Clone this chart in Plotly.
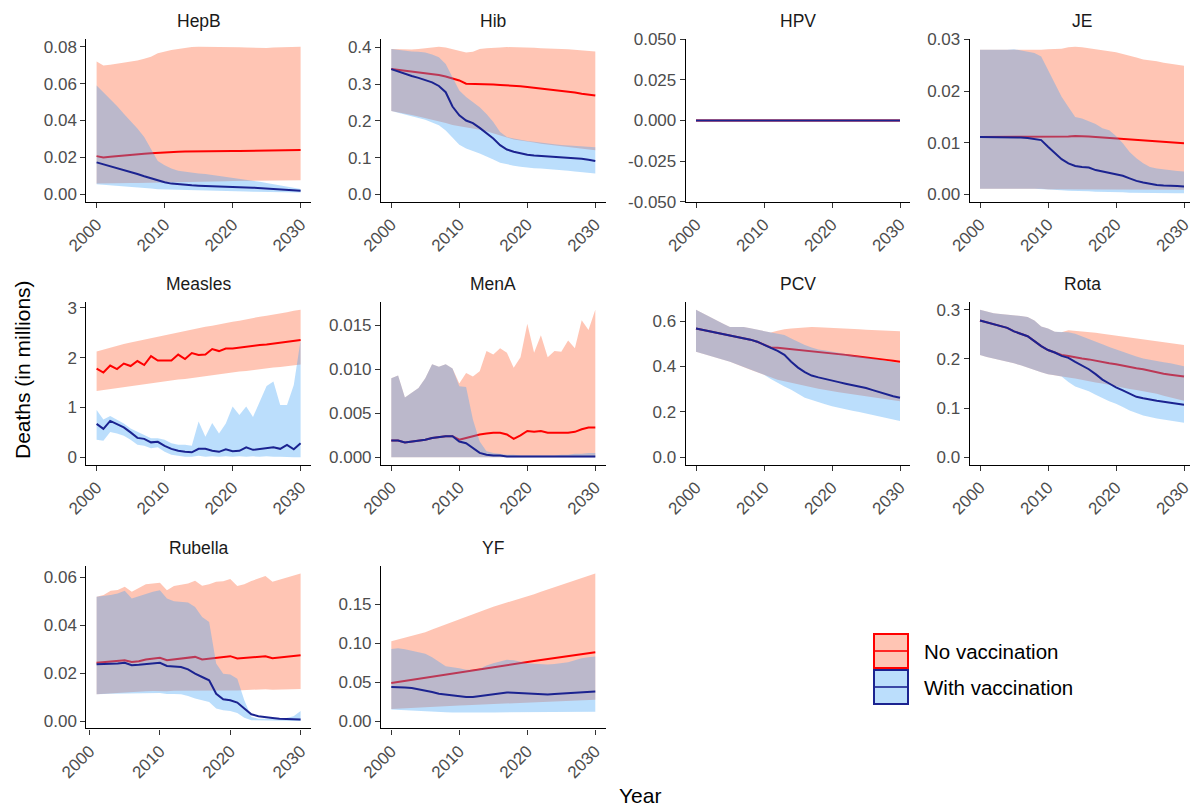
import plotly.graph_objects as go

# ---------------- data ----------------
years = list(range(2000, 2031))
rubella_years = list(range(2001, 2031))
diseases = ["HepB", "Hib", "HPV", "JE", "Measles", "MenA", "PCV", "Rota", "Rubella", "YF"]

hepb_nov_mid = [.0207, .0200, .0203, .0207, .0211, .0215, .0218, .0220, .0222, .0225, .0228, .0230, .0231, .0232, .0233, .0234,
                .0234, .0235, .0235, .0235, .0235, .0235, .0236, .0236, .0236, .0237, .0237, .0238, .0238, .0239, .0240]
hepb_nov_hi = [.0720, .0698, .0702, .0707, .0712, .0718, .0725, .0735, .0745, .0765, .0775, .0782, .0788, .0795, .0798, .0800,
               .0800, .0800, .0799, .0798, .0798, .0797, .0795, .0794, .0793, .0793, .0795, .0796, .0797, .0798, .0800]
hepb_nov_lo = [.0058, .0059, .0060, .0060, .0061, .0062, .0062, .0063, .0064, .0064, .0065, .0066, .0066, .0067, .0068, .0068,
               .0069, .0070, .0070, .0071, .0072, .0072, .0073, .0073, .0074, .0074, .0075, .0075, .0075, .0076, .0076]
hepb_vac_mid = [.0173, .0163, .0153, .0143, .0132, .0121, .0110, .0098, .0087, .0075, .0065, .0058, .0054, .0051, .0049, .0047,
                .0045, .0044, .0042, .0041, .0040, .0039, .0037, .0036, .0034, .0032, .0030, .0027, .0025, .0022, .0019]
hepb_vac_hi = [.0590, .0554, .0518, .0478, .0437, .0397, .0356, .0311, .0248, .0180, .0158, .0140, .0128, .0122, .0117, .0113,
               .0110, .0105, .0099, .0095, .0090, .0086, .0081, .0075, .0068, .0061, .0054, .0048, .0041, .0035, .0029]
hepb_vac_lo = [.0055, .0052, .0049, .0046, .0043, .0040, .0037, .0034, .0031, .0028, .0025, .0024, .0023, .0022, .0021, .0020,
               .0019, .0018, .0018, .0017, .0016, .0016, .0015, .0014, .0013, .0013, .0012, .0012, .0011, .0010, .0010]

hib_nov_mid = [.341, .339, .336, .334, .332, .330, .328, .325, .321, .316, .310, .301, .301, .301, .300, .299,
               .298, .297, .295, .294, .292, .290, .288, .286, .283, .281, .279, .277, .274, .271, .269]
hib_nov_hi = [.396, .395, .394, .394, .396, .398, .401, .402, .400, .396, .391, .386, .388, .396, .398, .398,
              .400, .401, .401, .400, .399, .399, .398, .398, .397, .396, .395, .394, .392, .390, .389]
hib_nov_lo = [.227, .223, .219, .216, .212, .209, .204, .199, .194, .189, .185, .182, .179, .176, .172, .167,
              .161, .155, .149, .146, .143, .141, .138, .136, .133, .131, .129, .127, .124, .122, .120]
hib_vac_mid = [.341, .334, .328, .322, .317, .311, .305, .295, .278, .239, .215, .201, .194, .181, .167, .152,
               .134, .122, .116, .111, .108, .106, .105, .104, .102, .101, .100, .098, .097, .094, .091]
hib_vac_hi = [.396, .393, .390, .389, .388, .386, .381, .373, .355, .319, .283, .265, .251, .237, .219, .197,
              .170, .156, .152, .148, .145, .143, .140, .138, .136, .134, .133, .132, .130, .129, .128]
hib_vac_lo = [.227, .222, .217, .212, .208, .203, .196, .188, .174, .156, .135, .125, .118, .111, .104, .095,
              .086, .081, .078, .075, .072, .071, .070, .068, .067, .066, .064, .062, .060, .058, .057]

hpv_nov_mid = [0.0] * 31
hpv_nov_hi = [0.0] * 31
hpv_nov_lo = [0.0] * 31
hpv_vac_mid = [0.0] * 31
hpv_vac_hi = [0.0] * 31
hpv_vac_lo = [0.0] * 31

je_nov_mid = [.0111, .0111, .0111, .0111, .0111, .0111, .0111, .0111, .0111, .0111, .0111, .0112, .0112, .0112, .0113, .0113,
              .0112, .0111, .0110, .0109, .0108, .0107, .0106, .0105, .0104, .0103, .0102, .0101, .0100, .0100, .0099]
je_nov_hi = [.0280, .0280, .0280, .0279, .0280, .0280, .0280, .0280, .0280, .0280, .0281, .0281, .0282, .0285, .0286, .0285,
             .0283, .0282, .0279, .0278, .0275, .0272, .0269, .0265, .0261, .0260, .0258, .0255, .0253, .0252, .0249]
je_nov_lo = [.0011, .0011, .0011, .0011, .0011, .0011, .0011, .0011, .0011, .0011, .0010, .0010, .0010, .0010, .0010, .0010,
             .0010, .0010, .0010, .0010, .0010, .0009, .0009, .0009, .0009, .0009, .0009, .0009, .0009, .0009, .0009]
je_vac_mid = [.0111, .0111, .0111, .0111, .0111, .0111, .0110, .0109, .0107, .0105, .0092, .0079, .0068, .0060, .0055, .0053,
              .0052, .0047, .0044, .0042, .0039, .0036, .0031, .0026, .0023, .0020, .0018, .0017, .0017, .0016, .0015]
je_vac_hi = [.0280, .0280, .0279, .0279, .0280, .0281, .0279, .0277, .0274, .0267, .0240, .0214, .0189, .0169, .0150, .0147,
             .0142, .0136, .0128, .0124, .0113, .0099, .0082, .0070, .0060, .0053, .0050, .0048, .0046, .0045, .0044]
je_vac_lo = [.0011, .0011, .0011, .0011, .0011, .0011, .0011, .0011, .0011, .0011, .0010, .0009, .0008, .0007, .0007, .0006,
             .0006, .0005, .0005, .0004, .0004, .0004, .0003, .0003, .0003, .0002, .0002, .0002, .0002, .0002, .0002]

measles_nov_mid = [1.78, 1.70, 1.84, 1.77, 1.88, 1.83, 1.93, 1.85, 2.03, 1.94, 1.94, 1.94, 2.06, 1.97, 2.09, 2.05,
                   2.06, 2.17, 2.13, 2.18, 2.18, 2.20, 2.22, 2.23, 2.25, 2.26, 2.28, 2.30, 2.32, 2.33, 2.35]
measles_nov_hi = [2.12, 2.16, 2.20, 2.23, 2.27, 2.30, 2.33, 2.36, 2.39, 2.42, 2.45, 2.48, 2.51, 2.54, 2.56, 2.59,
                  2.62, 2.64, 2.67, 2.70, 2.72, 2.74, 2.77, 2.79, 2.82, 2.84, 2.86, 2.89, 2.91, 2.94, 2.96]
measles_nov_lo = [1.33, 1.35, 1.37, 1.39, 1.41, 1.43, 1.45, 1.46, 1.48, 1.50, 1.52, 1.54, 1.56, 1.57, 1.59, 1.61,
                  1.63, 1.65, 1.66, 1.68, 1.70, 1.72, 1.73, 1.75, 1.76, 1.78, 1.80, 1.81, 1.83, 1.84, 1.86]
measles_vac_mid = [0.67, 0.57, 0.73, 0.67, 0.60, 0.50, 0.39, 0.37, 0.30, 0.31, 0.23, 0.17, 0.13, 0.11, 0.10, 0.17,
                   0.17, 0.13, 0.11, 0.16, 0.12, 0.13, 0.20, 0.15, 0.17, 0.18, 0.20, 0.17, 0.25, 0.16, 0.28]
measles_vac_hi = [0.95, 0.76, 0.83, 0.76, 0.68, 0.58, 0.51, 0.45, 0.38, 0.38, 0.35, 0.28, 0.25, 0.25, 0.23, 0.72,
                  0.41, 0.69, 0.48, 0.68, 1.02, 0.85, 1.02, 0.81, 1.12, 1.43, 1.52, 1.05, 1.05, 1.45, 2.35]
measles_vac_lo = [0.35, 0.33, 0.51, 0.48, 0.43, 0.35, 0.25, 0.23, 0.18, 0.20, 0.11, 0.05, 0.03, 0.01, 0.01, 0.03,
                  0.01, 0.02, 0.01, 0.02, 0.01, 0.02, 0.01, 0.02, 0.01, 0.02, 0.01, 0.01, 0.01, 0.00, 0.00]

mena_nov_mid = [.0019, .0019, .0017, .0018, .0019, .0020, .0022, .0023, .0024, .0024, .0020, .0022, .0024, .0026, .0027, .0028,
                .0028, .0026, .0021, .0025, .0030, .0029, .0030, .0028, .0028, .0028, .0028, .0029, .0032, .0034, .0034]
mena_nov_hi = [.0090, .0093, .0068, .0073, .0079, .0090, .0106, .0103, .0106, .0101, .0084, .0096, .0092, .0098, .0121, .0117,
               .0124, .0119, .0102, .0114, .0152, .0119, .0139, .0114, .0121, .0120, .0133, .0124, .0156, .0145, .0168]
mena_nov_lo = [0.0] * 31
mena_vac_mid = [.0019, .0019, .0017, .0018, .0019, .0020, .0022, .0023, .0024, .0024, .0018, .0016, .0010, .0005, .0003, .0002,
                .0002, .0001, .0001, .0001, .0001, .0001, .0001, .0001, .0001, .0001, .0001, .0001, .0001, .0001, .0001]
mena_vac_hi = [.0090, .0093, .0068, .0073, .0079, .0090, .0106, .0103, .0106, .0101, .0081, .0080, .0043, .0018, .0007, .0005,
               .0004, .0003, .0003, .0002, .0002, .0002, .0002, .0002, .0002, .0003, .0003, .0004, .0004, .0005, .0005]
mena_vac_lo = [0.0] * 31

pcv_nov_mid = [.567, .561, .554, .548, .543, .538, .532, .526, .518, .509, .497, .484, .482, .479, .477, .475,
               .472, .468, .465, .461, .458, .454, .451, .447, .444, .440, .436, .432, .429, .425, .421]
pcv_nov_hi = [.650, .634, .617, .603, .588, .574, .574, .574, .568, .562, .555, .550, .557, .564, .567, .570,
              .572, .574, .573, .572, .570, .568, .567, .566, .564, .562, .561, .560, .558, .557, .555]
pcv_nov_lo = [.465, .456, .447, .439, .430, .421, .409, .398, .386, .375, .363, .352, .342, .335, .327, .320,
              .314, .308, .302, .297, .291, .287, .282, .278, .273, .269, .265, .260, .256, .251, .247]
pcv_vac_mid = [.567, .561, .554, .548, .543, .538, .532, .526, .518, .509, .497, .482, .469, .451, .421, .395,
               .375, .360, .352, .344, .339, .331, .324, .318, .312, .305, .296, .286, .276, .269, .262]
pcv_vac_hi = [.650, .634, .617, .603, .588, .574, .574, .574, .568, .562, .555, .548, .542, .538, .523, .509,
              .494, .484, .475, .470, .465, .459, .453, .448, .444, .439, .435, .430, .426, .420, .414]
pcv_vac_lo = [.465, .456, .447, .439, .430, .421, .409, .398, .386, .375, .363, .345, .327, .312, .298, .280,
              .262, .252, .243, .234, .225, .218, .211, .205, .199, .193, .186, .180, .173, .167, .160]

rota_nov_mid = [.278, .274, .270, .266, .263, .256, .251, .246, .236, .226, .218, .213, .208, .206, .203, .201,
                .199, .196, .194, .191, .189, .186, .184, .181, .179, .176, .172, .170, .168, .166, .164]
rota_nov_hi = [.300, .296, .293, .291, .290, .288, .287, .285, .278, .266, .262, .255, .254, .258, .257, .256,
               .254, .253, .251, .249, .247, .245, .243, .241, .240, .238, .236, .234, .232, .230, .228]
rota_nov_lo = [.208, .204, .201, .198, .194, .191, .187, .182, .178, .173, .169, .167, .164, .162, .160, .158,
               .155, .152, .150, .147, .144, .142, .139, .137, .134, .132, .129, .125, .122, .118, .115]
rota_vac_mid = [.278, .274, .270, .266, .263, .256, .251, .246, .236, .226, .218, .213, .206, .202, .194, .186,
                .179, .169, .158, .150, .142, .136, .129, .123, .120, .117, .115, .113, .111, .109, .107]
rota_vac_hi = [.300, .296, .293, .291, .290, .288, .287, .285, .278, .266, .262, .255, .254, .254, .251, .246,
               .241, .236, .230, .224, .219, .214, .209, .205, .201, .198, .196, .193, .191, .188, .185]
rota_vac_lo = [.208, .204, .201, .198, .194, .191, .187, .182, .178, .173, .169, .167, .164, .153, .144, .139,
               .134, .127, .120, .114, .109, .102, .095, .090, .085, .082, .079, .076, .074, .072, .070]

rubella_nov_mid = [.0243, .0245, .0247, .0250, .0254, .0247, .0250, .0257, .0260, .0264, .0254, .0257, .0261, .0264, .0268,
                   .0257, .0260, .0265, .0268, .0271, .0261, .0263, .0265, .0268, .0271, .0262, .0265, .0268, .0271, .0275]
rubella_nov_hi = [.0519, .0527, .0544, .0548, .0561, .0540, .0556, .0572, .0575, .0578, .0547, .0564, .0570, .0575, .0586,
                  .0565, .0572, .0582, .0584, .0593, .0564, .0572, .0585, .0596, .0606, .0582, .0590, .0598, .0607, .0617]
rubella_nov_lo = [.0112, .0114, .0116, .0118, .0121, .0120, .0122, .0124, .0125, .0126, .0124, .0126, .0127, .0127, .0128,
                  .0127, .0128, .0128, .0128, .0128, .0128, .0129, .0130, .0131, .0133, .0131, .0132, .0133, .0133, .0134]
rubella_vac_mid = [.0237, .0237, .0238, .0240, .0243, .0233, .0235, .0238, .0241, .0243, .0230, .0228, .0226, .0216, .0198,
                   .0184, .0170, .0114, .0091, .0087, .0077, .0052, .0028, .0020, .0015, .0013, .0010, .0008, .0007, .0006]
rubella_vac_hi = [.0519, .0522, .0527, .0533, .0544, .0512, .0522, .0533, .0540, .0547, .0512, .0501, .0498, .0495, .0477,
                  .0435, .0414, .0240, .0198, .0194, .0177, .0087, .0017, .0010, .0010, .0010, .0010, .0013, .0020, .0042]
rubella_vac_lo = [.0112, .0113, .0114, .0115, .0117, .0115, .0116, .0117, .0117, .0117, .0113, .0113, .0112, .0105, .0094,
                  .0087, .0080, .0052, .0045, .0042, .0033, .0014, .0003, .0001, .0000, .0000, .0000, .0000, .0000, .0000]

yf_nov_mid = [.0486, .0500, .0513, .0527, .0540, .0554, .0568, .0581, .0595, .0608, .0622, .0636, .0649, .0663, .0677, .0690,
              .0704, .0718, .0731, .0745, .0759, .0771, .0783, .0796, .0808, .0820, .0833, .0845, .0857, .0870, .0882]
yf_nov_hi = [.1023, .1045, .1068, .1091, .1115, .1138, .1172, .1206, .1240, .1274, .1308, .1340, .1371, .1403, .1434, .1466,
             .1492, .1517, .1543, .1568, .1594, .1625, .1656, .1686, .1717, .1748, .1777, .1806, .1835, .1864, .1893]
yf_nov_lo = [.0153, .0158, .0163, .0168, .0173, .0178, .0182, .0186, .0191, .0195, .0200, .0203, .0206, .0209, .0212, .0215,
             .0218, .0221, .0224, .0227, .0230, .0234, .0238, .0243, .0247, .0252, .0256, .0260, .0265, .0269, .0273]
yf_vac_mid = [.0435, .0435, .0429, .0422, .0407, .0392, .0371, .0350, .0339, .0328, .0317, .0307, .0307, .0320, .0335, .0350,
              .0359, .0367, .0363, .0358, .0352, .0345, .0343, .0341, .0345, .0350, .0356, .0362, .0368, .0373, .0379]
yf_vac_hi = [.0925, .0933, .0920, .0904, .0883, .0861, .0818, .0760, .0703, .0690, .0678, .0656, .0656, .0669, .0712, .0740,
             .0767, .0784, .0780, .0760, .0742, .0733, .0725, .0726, .0730, .0740, .0754, .0780, .0806, .0817, .0827]
yf_vac_lo = [.0149, .0144, .0139, .0134, .0129, .0124, .0120, .0117, .0113, .0110, .0107, .0107, .0108, .0108, .0109, .0110,
             .0111, .0112, .0113, .0114, .0115, .0116, .0117, .0117, .0118, .0119, .0119, .0119, .0119, .0119, .0119]

# y tick values per panel
yticks = {
    "HepB": [0, 0.02, 0.04, 0.06, 0.08],
    "Hib": [0, 0.1, 0.2, 0.3, 0.4],
    "HPV": [-0.05, -0.025, 0, 0.025, 0.05],
    "JE": [0, 0.01, 0.02, 0.03],
    "Measles": [0, 1, 2, 3],
    "MenA": [0, 0.005, 0.010, 0.015],
    "PCV": [0, 0.2, 0.4, 0.6],
    "Rota": [0, 0.1, 0.2, 0.3],
    "Rubella": [0, 0.02, 0.04, 0.06],
    "YF": [0, 0.05, 0.10, 0.15],
}
ytick_decimals = {"HepB": 2, "Hib": 1, "HPV": 3, "JE": 2, "Measles": 0, "MenA": 3,
                  "PCV": 1, "Rota": 1, "Rubella": 2, "YF": 2}
xticks = [2000, 2010, 2020, 2030]

# ---------------- build ----------------
src = {
    "HepB": (years, hepb_nov_mid, hepb_nov_lo, hepb_nov_hi, hepb_vac_mid, hepb_vac_lo, hepb_vac_hi),
    "Hib": (years, hib_nov_mid, hib_nov_lo, hib_nov_hi, hib_vac_mid, hib_vac_lo, hib_vac_hi),
    "HPV": (years, hpv_nov_mid, hpv_nov_lo, hpv_nov_hi, hpv_vac_mid, hpv_vac_lo, hpv_vac_hi),
    "JE": (years, je_nov_mid, je_nov_lo, je_nov_hi, je_vac_mid, je_vac_lo, je_vac_hi),
    "Measles": (years, measles_nov_mid, measles_nov_lo, measles_nov_hi, measles_vac_mid, measles_vac_lo, measles_vac_hi),
    "MenA": (years, mena_nov_mid, mena_nov_lo, mena_nov_hi, mena_vac_mid, mena_vac_lo, mena_vac_hi),
    "PCV": (years, pcv_nov_mid, pcv_nov_lo, pcv_nov_hi, pcv_vac_mid, pcv_vac_lo, pcv_vac_hi),
    "Rota": (years, rota_nov_mid, rota_nov_lo, rota_nov_hi, rota_vac_mid, rota_vac_lo, rota_vac_hi),
    "Rubella": (rubella_years, rubella_nov_mid, rubella_nov_lo, rubella_nov_hi, rubella_vac_mid, rubella_vac_lo, rubella_vac_hi),
    "YF": (years, yf_nov_mid, yf_nov_lo, yf_nov_hi, yf_vac_mid, yf_vac_lo, yf_vac_hi),
}

# page body has an 8px margin: the figure occupies window pixels 8..1198 x 8..810
OFF = 8
W, H = 1198 - OFF, 810 - OFF


def px(xp):
    return (xp - OFF) / W


def py(yp):
    return 1 - (yp - OFF) / H


COL_LEFT = [86.4, 381.1, 685.8, 969.8]
PANEL_W = 224.4
ROW_TOP = [39.3, 302.3, 566.0]
PANEL_H = 162.4

NOV_FILL = "rgba(255,140,105,0.5)"
VAC_FILL = "rgba(60,160,245,0.35)"
NOV_LINE = "#FF0000"
VAC_LINE = "#1B2390"
FONT = "Liberation Sans, Arial, sans-serif"
TICKFONT = dict(family=FONT, size=17, color="#4D4D4D")

fig = go.Figure()
layout = {}
annotations = []

for i, name in enumerate(diseases):
    yrs, nmid, nlo, nhi, vmid, vlo, vhi = src[name]
    r, c = divmod(i, 4)
    sfx = "" if i == 0 else str(i + 1)
    xa, ya = "x" + sfx, "y" + sfx

    fig.add_trace(go.Scatter(x=yrs + yrs[::-1], y=nhi + nlo[::-1], fill="toself", fillcolor=NOV_FILL,
                             mode="lines", line=dict(width=0, color=NOV_FILL), xaxis=xa, yaxis=ya,
                             showlegend=False, hoverinfo="skip"))
    fig.add_trace(go.Scatter(x=yrs, y=nmid, mode="lines", line=dict(color=NOV_LINE, width=2),
                             xaxis=xa, yaxis=ya, showlegend=False, name="No vaccination"))
    fig.add_trace(go.Scatter(x=yrs + yrs[::-1], y=vhi + vlo[::-1], fill="toself", fillcolor=VAC_FILL,
                             mode="lines", line=dict(width=0, color=VAC_FILL), xaxis=xa, yaxis=ya,
                             showlegend=False, hoverinfo="skip"))
    fig.add_trace(go.Scatter(x=yrs, y=vmid, mode="lines", line=dict(color=VAC_LINE, width=2),
                             xaxis=xa, yaxis=ya, showlegend=False, name="With vaccination"))

    # ggplot-like ranges: 5% expansion, including zero
    if name == "HPV":
        yr = [-0.05, 0.05]
    else:
        allv = nlo + nhi + vlo + vhi + nmid + vmid
        lo, hi = min(0.0, min(allv)), max(allv)
        pad = 0.05 * (hi - lo)
        yr = [lo - pad, hi + pad]
    xlo, xhi = min(yrs), max(yrs)
    xpad = 0.05 * (xhi - xlo)

    left, top = COL_LEFT[c], ROW_TOP[r]
    xdom = [px(left), px(left + PANEL_W)]
    ydom = [py(top + PANEL_H), py(top)]
    common = dict(showline=True, linecolor="black", linewidth=1.3, ticks="outside", ticklen=5,
                  tickwidth=1.2, tickcolor="#333333", showgrid=False, zeroline=False,
                  tickfont=TICKFONT, fixedrange=True, automargin=False)
    layout["xaxis" + sfx] = dict(domain=xdom, anchor=ya, range=[xlo - xpad, xhi + xpad],
                                 tickmode="array", tickvals=xticks, ticktext=[str(t) for t in xticks],
                                 tickangle=-45, **common)
    d = ytick_decimals[name]
    tv = yticks[name]
    layout["yaxis" + sfx] = dict(domain=ydom, anchor=xa, range=yr, tickmode="array", tickvals=tv,
                                 ticktext=[f"{v:.{d}f}" for v in tv], **common)
    annotations.append(dict(text=name, x=px(left + PANEL_W / 2), y=py(top - 18),
                            xref="paper", yref="paper", showarrow=False, xanchor="center", yanchor="middle",
                            font=dict(family=FONT, size=17.5, color="#1A1A1A")))

# axis titles
annotations.append(dict(text="Deaths (in millions)", x=px(22), y=py(370), xref="paper", yref="paper",
                        showarrow=False, textangle=-90, xanchor="center", yanchor="middle",
                        font=dict(family=FONT, size=21, color="black")))
annotations.append(dict(text="Year", x=px(640), y=py(795), xref="paper", yref="paper",
                        showarrow=False, xanchor="center", yanchor="middle",
                        font=dict(family=FONT, size=21, color="black")))

# legend (drawn as keys + labels)
shapes = []
legend_items = [("No vaccination", NOV_FILL, NOV_LINE, 634), ("With vaccination", VAC_FILL, VAC_LINE, 670)]
for label, fillc, linec, ytop in legend_items:
    shapes.append(dict(type="rect", xref="paper", yref="paper", x0=px(874), x1=px(908),
                       y0=py(ytop + 34), y1=py(ytop), fillcolor=fillc,
                       line=dict(color=linec, width=2)))
    shapes.append(dict(type="line", xref="paper", yref="paper", x0=px(875), x1=px(907),
                       y0=py(ytop + 17), y1=py(ytop + 17), line=dict(color=linec, width=1.6)))
    annotations.append(dict(text=label, x=px(922), y=py(ytop + 17), xref="paper", yref="paper",
                            showarrow=False, xanchor="left", yanchor="middle",
                            font=dict(family=FONT, size=20.5, color="black")))

fig.update_layout(template="none", width=W, height=H, margin=dict(l=0, r=0, t=0, b=0, autoexpand=False),
                  paper_bgcolor="white", plot_bgcolor="white", showlegend=False,
                  annotations=annotations, shapes=shapes, font=dict(family=FONT), **layout)

fig.write_html("out.html")
